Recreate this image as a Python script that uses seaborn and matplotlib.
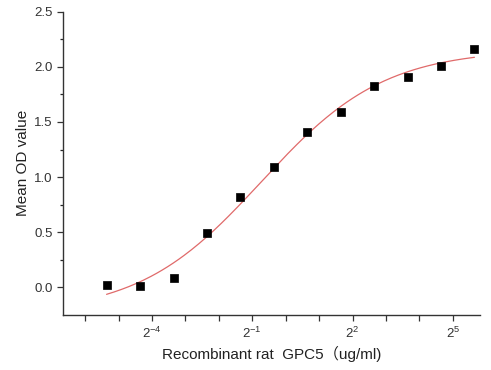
import numpy as np
import pandas as pd
import matplotlib
matplotlib.use("Agg")
import matplotlib.pyplot as plt
import seaborn as sns
from matplotlib.ticker import FixedLocator, FixedFormatter

# Data (doubling dilutions, ug/ml) and mean OD values
conc = [0.0244, 0.0488, 0.0977, 0.195, 0.391, 0.781, 1.5625, 3.125, 6.25, 12.5, 25, 50]
od = [0.025, 0.015, 0.09, 0.49, 0.82, 1.09, 1.41, 1.59, 1.83, 1.91, 2.01, 2.16]

major_exp = [-4, -1, 2, 5]
minor_exp = [-6, -5, -3, -2, 0, 1, 3, 4]
y_ticks = [0.0, 0.5, 1.0, 1.5, 2.0, 2.5]

df = pd.DataFrame({"conc": conc, "od": od})

# 4-parameter logistic fit (Levenberg-Marquardt in numpy)
lx = np.log2(np.array(conc))
yy = np.array(od)

def model(p, t):
    A, D, B, c = p
    return D + (A - D) / (1 + np.exp(B * (t - c)))

p = np.array([-0.1, 2.2, 1.0, -1.0])
lam = 1e-2
for _ in range(500):
    r = yy - model(p, lx)
    J = np.zeros((len(lx), 4))
    for i in range(4):
        dp = np.zeros(4); dp[i] = 1e-6
        J[:, i] = (model(p + dp, lx) - model(p - dp, lx)) / 2e-6
    H = J.T @ J
    g = J.T @ r
    step = np.linalg.solve(H + lam * np.diag(np.diag(H)), g)
    pn = p + step
    if np.sum((yy - model(pn, lx)) ** 2) < np.sum(r ** 2):
        p = pn; lam *= 0.5
    else:
        lam *= 4

tfit = np.linspace(lx.min(), lx.max(), 200)
fit = pd.DataFrame({"conc": 2.0 ** tfit, "od": model(p, tfit)})

sns.set_style("ticks")
plt.rcParams["font.family"] = ["Liberation Sans", "Noto Sans CJK SC", "DejaVu Sans"]
plt.rcParams["mathtext.fontset"] = "custom"
plt.rcParams["mathtext.rm"] = "Liberation Sans"
plt.rcParams["mathtext.it"] = "Liberation Sans"
plt.rcParams["axes.unicode_minus"] = False

fig = plt.figure(figsize=(4.91, 3.70), dpi=100)
ax = fig.add_axes([63 / 491, 1 - 315 / 370, (480 - 63) / 491, (315 - 11.7) / 370])

sns.lineplot(data=fit, x="conc", y="od", ax=ax, color="#e06a6a", linewidth=0.9)
sns.scatterplot(data=df, x="conc", y="od", ax=ax, marker="s", color="black",
                s=26, edgecolor="black", linewidth=0.5, zorder=3)

ax.set_xscale("log", base=2)
ax.set_xlim(2 ** -6.66, 2 ** 5.81)
ax.set_ylim(-0.25, 2.5)

ax.xaxis.set_major_locator(FixedLocator([2.0 ** e for e in major_exp]))
ax.xaxis.set_major_formatter(FixedFormatter([r"$2^{%d}$" % e for e in major_exp]))
ax.xaxis.set_minor_locator(FixedLocator([2.0 ** e for e in minor_exp]))
ax.xaxis.set_minor_formatter(FixedFormatter([""] * len(minor_exp)))

ax.set_yticks(y_ticks)
ax.set_yticklabels(["%.1f" % v for v in y_ticks])
ax.set_yticks([0.25, 0.75, 1.25, 1.75, 2.25], minor=True)

ax.tick_params(axis="x", which="both", direction="out", length=4, width=0.9,
               labelsize=9.5, colors="#333333", pad=4)
ax.tick_params(axis="y", which="major", direction="out", length=4, width=0.9,
               labelsize=9.5, colors="#333333")
ax.tick_params(axis="y", which="minor", direction="out", length=2.5, width=0.9)

for s in ["top", "right"]:
    ax.spines[s].set_visible(False)
for s in ["left", "bottom"]:
    ax.spines[s].set_linewidth(1.0)
    ax.spines[s].set_color("#333333")

ax.set_xlabel("Recombinant rat  GPC5（ug/ml)", fontsize=11, color="#222222", labelpad=3)
ax.set_ylabel("Mean OD value", fontsize=11, color="#222222", labelpad=3)

fig.savefig("out.png", dpi=100)
